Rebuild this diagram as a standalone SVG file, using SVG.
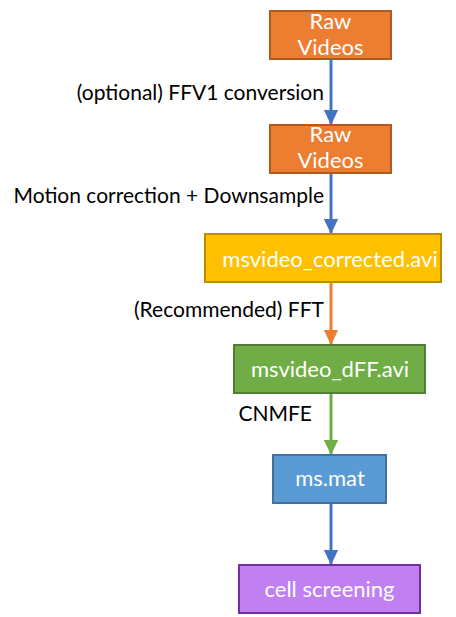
<svg xmlns="http://www.w3.org/2000/svg" width="456" height="617" viewBox="0 0 456 617">
<style>
.n text{font-family:Lato,"Open Sans",sans-serif;font-size:22px;fill:#fff;text-anchor:middle}
.lbl{font-family:Lato,"Open Sans",sans-serif;font-size:21px;fill:#000;text-anchor:end}
.box{stroke-width:2}
.c line{stroke-width:3}
</style>
<defs>
<marker id="hb" markerWidth="5" markerHeight="5" refX="4.2" refY="2" orient="auto" markerUnits="strokeWidth" viewBox="0 0 4.2 4"><path d="M0,0L4.2,2L0,4Z" fill="#4472C4"/></marker>
<marker id="ho" markerWidth="5" markerHeight="5" refX="4.2" refY="2" orient="auto" markerUnits="strokeWidth" viewBox="0 0 4.2 4"><path d="M0,0L4.2,2L0,4Z" fill="#ED7D31"/></marker>
<marker id="hg" markerWidth="5" markerHeight="5" refX="4.2" refY="2" orient="auto" markerUnits="strokeWidth" viewBox="0 0 4.2 4"><path d="M0,0L4.2,2L0,4Z" fill="#70AD47"/></marker>
</defs>
<rect width="456" height="617" fill="#fff"/>
<g class="c" id="connectors">
<line x1="331" y1="59" x2="331" y2="125" stroke="#4472C4" marker-end="url(#hb)"/>
<line x1="331" y1="173" x2="331" y2="234" stroke="#4472C4" marker-end="url(#hb)"/>
<line x1="331" y1="282" x2="331" y2="345" stroke="#ED7D31" marker-end="url(#ho)"/>
<line x1="331" y1="393" x2="331" y2="455" stroke="#70AD47" marker-end="url(#hg)"/>
<line x1="331" y1="503" x2="331" y2="565" stroke="#4472C4" marker-end="url(#hb)"/>
<text class="lbl" x="324" y="100">(optional) FFV1 conversion</text>
<text class="lbl" x="324" y="203">Motion correction + Downsample</text>
<text class="lbl" x="324" y="317">(Recommended) FFT</text>
<text class="lbl" x="312" y="421">CNMFE</text>
</g>
<g class="n" id="raw1"><rect class="box" x="270" y="11" width="121" height="48" fill="#ED7D31" stroke="#AE5A21"/><text x="330.5" y="29">Raw</text><text x="330.5" y="55">Videos</text></g>
<g class="n" id="raw2"><rect class="box" x="270" y="125" width="121" height="48" fill="#ED7D31" stroke="#AE5A21"/><text x="330.5" y="142">Raw</text><text x="330.5" y="168">Videos</text></g>
<g class="n" id="corrected"><rect class="box" x="205" y="234" width="236" height="48" fill="#FFC000" stroke="#BC8C00"/><text x="330" y="267">msvideo_corrected.avi</text></g>
<g class="n" id="dff"><rect class="box" x="234" y="345" width="191" height="48" fill="#70AD47" stroke="#507E32"/><text x="330" y="377">msvideo_dFF.avi</text></g>
<g class="n" id="msmat"><rect class="box" x="273" y="455" width="113" height="48" fill="#5B9BD5" stroke="#41719C"/><text x="330" y="486">ms.mat</text></g>
<g class="n" id="screening"><rect class="box" x="239" y="565" width="181" height="48" fill="#C080F2" stroke="#7030A0"/><text x="329.5" y="597">cell screening</text></g>
</svg>
